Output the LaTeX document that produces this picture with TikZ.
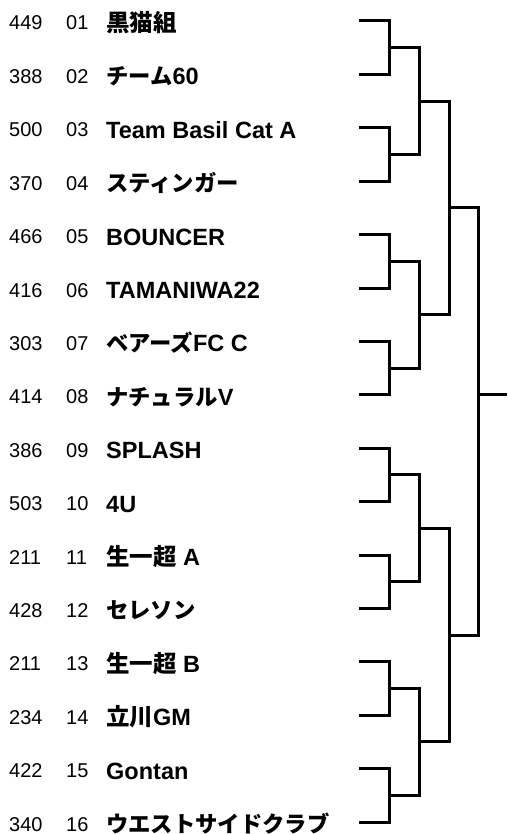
\documentclass[tikz,border=0pt]{standalone}
\usepackage{fontspec}
\setmainfont{Liberation Sans}
\newfontfamily\jp{Noto Sans CJK JP}[Scale=0.95]
\newfontfamily\jk{Noto Sans CJK JP}
\begin{document}
\begin{tikzpicture}[x=1pt,y=-1pt,
  bk/.style={draw=black, line width=3pt, line join=miter},
  sc/.style={anchor=base west, inner sep=0pt, font=\fontsize{20}{20}\selectfont},
  nm/.style={anchor=base west, inner sep=0pt, font=\bfseries\fontsize{23.5}{23.5}\selectfont}]
\useasboundingbox (0,0) rectangle (507,834);
\foreach \i/\n/\s/\t in {1/01/449/{\jk 黒猫組}, 2/02/388/{{\jp チーム}60}, 3/03/500/Team Basil Cat A, 4/04/370/{\jp スティンガー},
  5/05/466/BOUNCER, 6/06/416/TAMANIWA22, 7/07/303/{{\jp ベアーズ}FC C}, 8/08/414/{{\jp ナチュラル}V},
  9/09/386/SPLASH, 10/10/503/4U, 11/11/211/{{\jk 生一超} A}, 12/12/428/{\jp セレソン},
  13/13/211/{{\jk 生一超} B}, 14/14/234/{{\jk 立川}GM}, 15/15/422/Gontan, 16/16/340/{\jp ウエストサイドクラブ}} {
  \pgfmathsetmacro\yy{21+(\i-1)*53.4}
  \node[sc] (s\i) at (9,\yy+9) {\s};
  \node[sc] (n\i) at (66,\yy+9) {\n};
  \node[nm] (t\i) at (106,\yy+10.5) {\t};
  \coordinate (e\i) at (359,\yy);
}
% round 1
\foreach \k in {1,...,8} {
  \pgfmathtruncatemacro\a{2*\k-1}
  \pgfmathtruncatemacro\b{2*\k}
  \pgfmathsetmacro\yy{21+(2*\k-1.5)*53.4}
  \coordinate (r\k) at (389,\yy);
  \draw[bk] (e\a) -| (r\k) |- (e\b);
}
% round 2
\foreach \k in {1,...,4} {
  \pgfmathtruncatemacro\a{2*\k-1}
  \pgfmathtruncatemacro\b{2*\k}
  \pgfmathsetmacro\yy{21+(4*\k-2.5)*53.4}
  \coordinate (q\k) at (419,\yy);
  \draw[bk] (r\a) -| (q\k) |- (r\b);
}
% round 3
\foreach \k in {1,2} {
  \pgfmathtruncatemacro\a{2*\k-1}
  \pgfmathtruncatemacro\b{2*\k}
  \pgfmathsetmacro\yy{21+(8*\k-4.5)*53.4}
  \coordinate (p\k) at (449,\yy);
  \draw[bk] (q\a) -| (p\k) |- (q\b);
}
% final
\coordinate (f) at (478,394.8);
\coordinate (out) at (507,394.8);
\draw[bk] (p1) -| (f) |- (p2);
\draw[bk] (f) -- (out);
\end{tikzpicture}
\end{document}
